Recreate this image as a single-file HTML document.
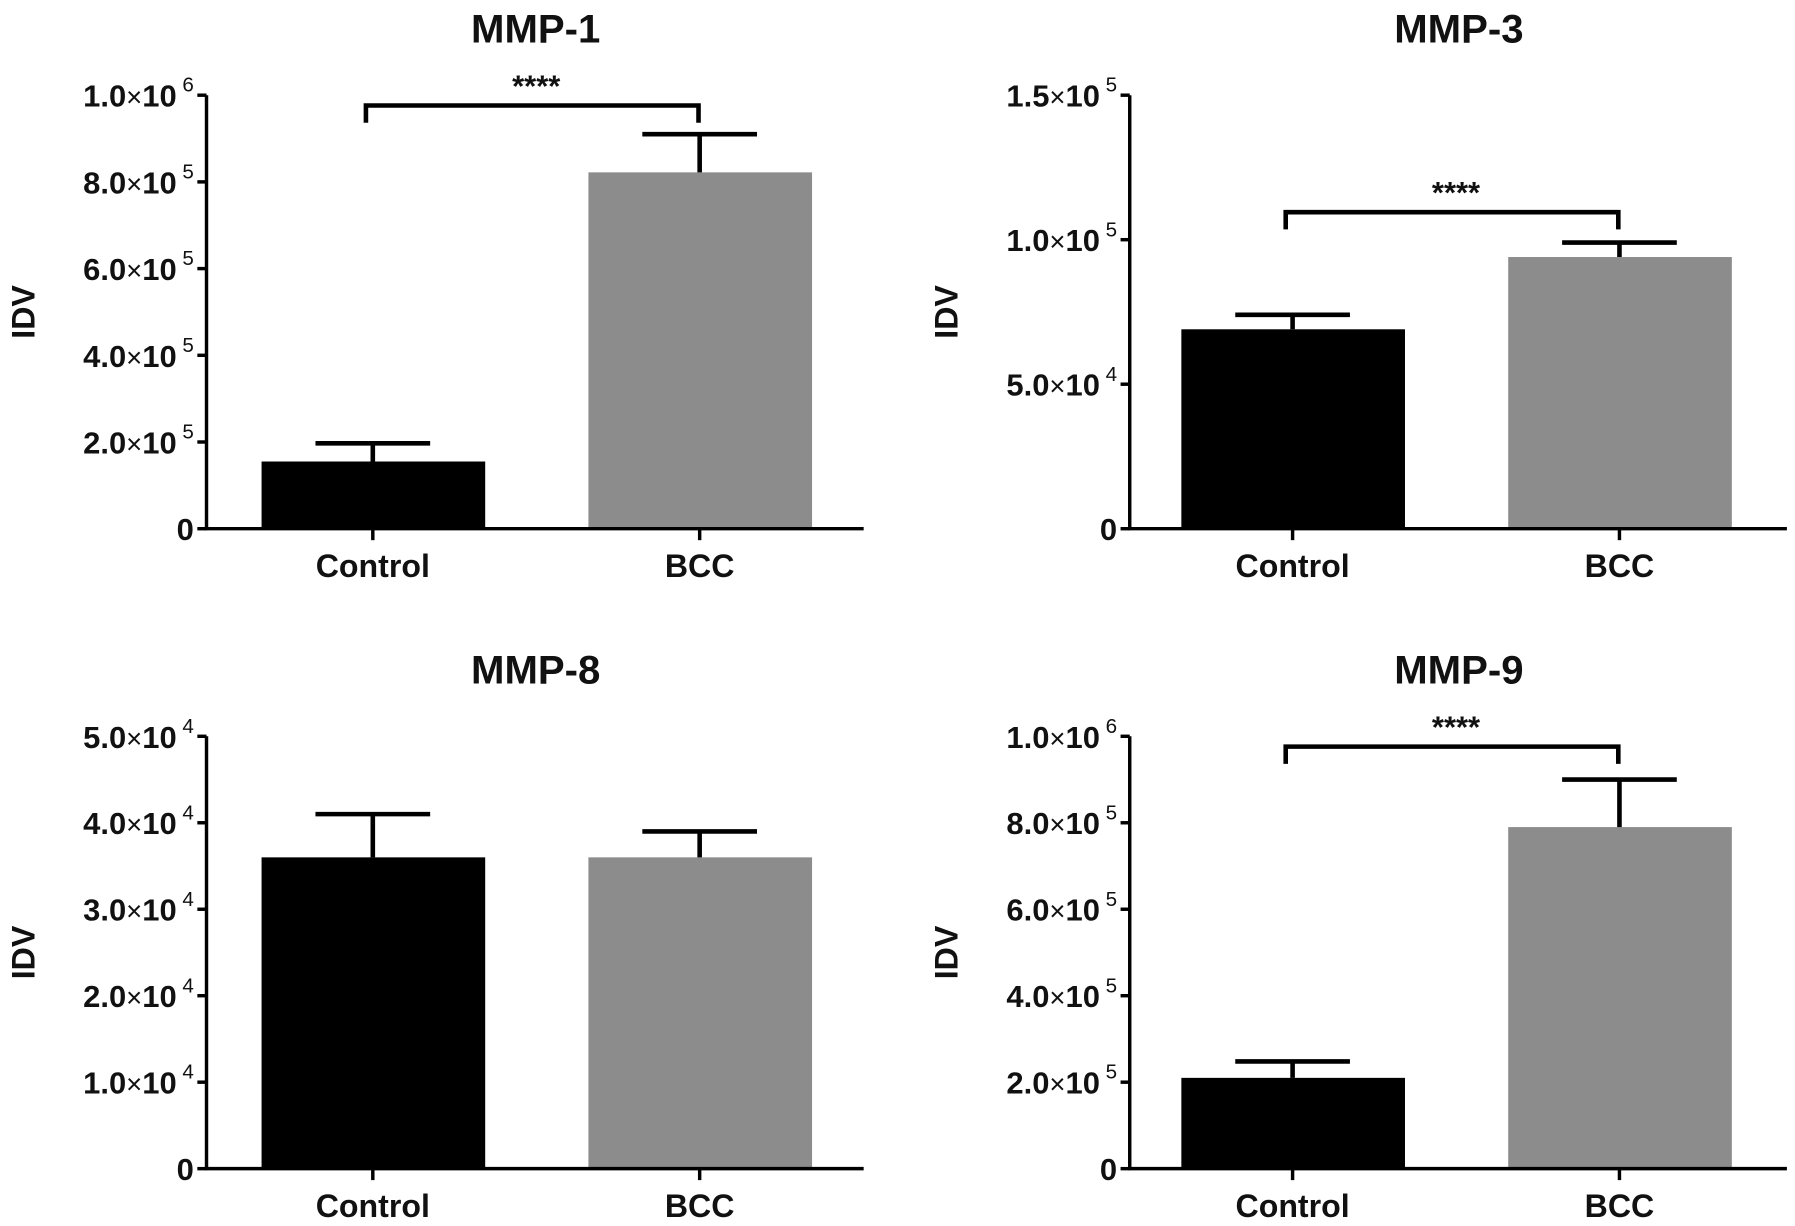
<!DOCTYPE html>
<html><head><meta charset="utf-8"><style>
html,body{margin:0;padding:0;background:#fff;}
svg{display:block;}
text{font-family:"Liberation Sans",Arial,sans-serif;font-weight:bold;fill:#111;}
</style></head><body>
<svg id="fig" width="1795" height="1226" viewBox="0 0 1565 1069" xmlns="http://www.w3.org/2000/svg"></svg>
<script>
const categories = ["Control", "BCC"];
const titles = ["MMP-1", "MMP-3", "MMP-8", "MMP-9"];
const meansMMP1 = [155000, 822000];
const errsMMP1 = [197000, 910000];
const meansMMP3 = [69000, 94000];
const errsMMP3 = [74000, 99000];
const meansMMP8 = [36000, 36000];
const errsMMP8 = [41000, 39000];
const meansMMP9 = [210000, 790000];
const errsMMP9 = [248000, 900000];
const ticksMMP1 = [[0,"0"],[200000,"2.0","5"],[400000,"4.0","5"],[600000,"6.0","5"],[800000,"8.0","5"],[1000000,"1.0","6"]];
const ticksMMP3 = [[0,"0"],[50000,"5.0","4"],[100000,"1.0","5"],[150000,"1.5","5"]];
const ticksMMP8 = [[0,"0"],[10000,"1.0","4"],[20000,"2.0","4"],[30000,"3.0","4"],[40000,"4.0","4"],[50000,"5.0","4"]];
const ticksMMP9 = [[0,"0"],[200000,"2.0","5"],[400000,"4.0","5"],[600000,"6.0","5"],[800000,"8.0","5"],[1000000,"1.0","6"]];
const yMaxes = [1000000, 150000, 50000, 1000000];
const significant = [true, true, false, true];

const NS = "http://www.w3.org/2000/svg";
const svg = document.getElementById("fig");
function mk(tag, attrs, parent) {
  const e = document.createElementNS(NS, tag);
  for (const k in attrs) e.setAttribute(k, attrs[k]);
  (parent || svg).appendChild(e);
  return e;
}
const panels = [
  {ox:180, off:145, top:83, bot:461, means:meansMMP1, errs:errsMMP1, ticks:ticksMMP1},
  {ox:985, off:142, top:83, bot:461, means:meansMMP3, errs:errsMMP3, ticks:ticksMMP3},
  {ox:180, off:145, top:642, bot:1019, means:meansMMP8, errs:errsMMP8, ticks:ticksMMP8},
  {ox:985, off:142, top:642, bot:1019, means:meansMMP9, errs:errsMMP9, ticks:ticksMMP9}
];
panels.forEach((p, i) => {
  const g = mk("g", {});
  
  
  const yS = v => p.bot - (v / yMaxes[i]) * (p.bot - p.top);
  const xC = j => p.ox + p.off + j * 285;
  const title = mk("text", {x: p.ox + 287, y: p.top - 46, "text-anchor": "middle", "font-size": 35}, g);
  title.textContent = titles[i];
  
  
  const yl = mk("text", {x: 0, y: 0, "text-anchor": "middle", "font-size": 28, transform: `translate(${p.ox - 150},${(p.top + p.bot) / 2}) rotate(-90)`}, g);
  yl.textContent = "IDV";
  
  
  p.means.forEach((m, j) => {
    const cx = xC(j);
    const r = mk("rect", {x: cx - 97, y: yS(m), width: 195, height: p.bot - yS(m), fill: j === 0 ? "#000" : "#8c8c8c"}, g);
    
    
    const eb = mk("path", {d: `M${cx} ${yS(m)} V${yS(p.errs[j])} M${cx - 50} ${yS(p.errs[j])} H${cx + 50}`, stroke: "#000", "stroke-width": 4, fill: "none"}, g);
    
    
    mk("path", {d: `M${cx} ${p.bot} V${p.bot + 10}`, stroke: "#000", "stroke-width": 3}, g);
    const cl = mk("text", {x: cx, y: p.bot + 42, "text-anchor": "middle", "font-size": 28}, g);
    cl.textContent = categories[j];
    
    
  });
  const ax = mk("path", {d: `M${p.ox} ${p.top} V${p.bot} H${p.ox + 573}`, stroke: "#000", "stroke-width": 3, fill: "none"}, g);
  
  
  p.ticks.forEach(tk => {
    const y = yS(tk[0]);
    mk("path", {d: `M${p.ox - 8} ${y} H${p.ox}`, stroke: "#000", "stroke-width": 3}, g);
    const tl = mk("text", {x: p.ox - 11, y: y + 10, "text-anchor": "end", "font-size": 27}, g);
    
    
    if (tk[2] === undefined) { tl.textContent = tk[1]; }
    else {
      const a = mk("tspan", {}, tl); a.textContent = tk[1];
      const b = mk("tspan", {"font-weight": "normal", "font-size": 24}, tl); b.textContent = "×";
      const c = mk("tspan", {}, tl); c.textContent = "10";
      const d = mk("tspan", {dy: -13, "font-size": 18, "font-weight": "normal"}, tl); d.textContent = " " + tk[2];
    }
  });
  if (significant[i]) {
    const by = p.top + (i === 1 ? 102 : 9);
    const br = mk("path", {d: `M${xC(0) - 6} ${by + 15} V${by} H${xC(1) - 1} V${by + 15}`, stroke: "#000", "stroke-width": 4, fill: "none"}, g);
    
    
    const st = mk("text", {x: (xC(0) + xC(1)) / 2, y: by - 8, "text-anchor": "middle", "font-size": 27, "font-weight": "normal"}, g);
    st.textContent = "****";
    
    
  }
});
</script>
</body></html>
